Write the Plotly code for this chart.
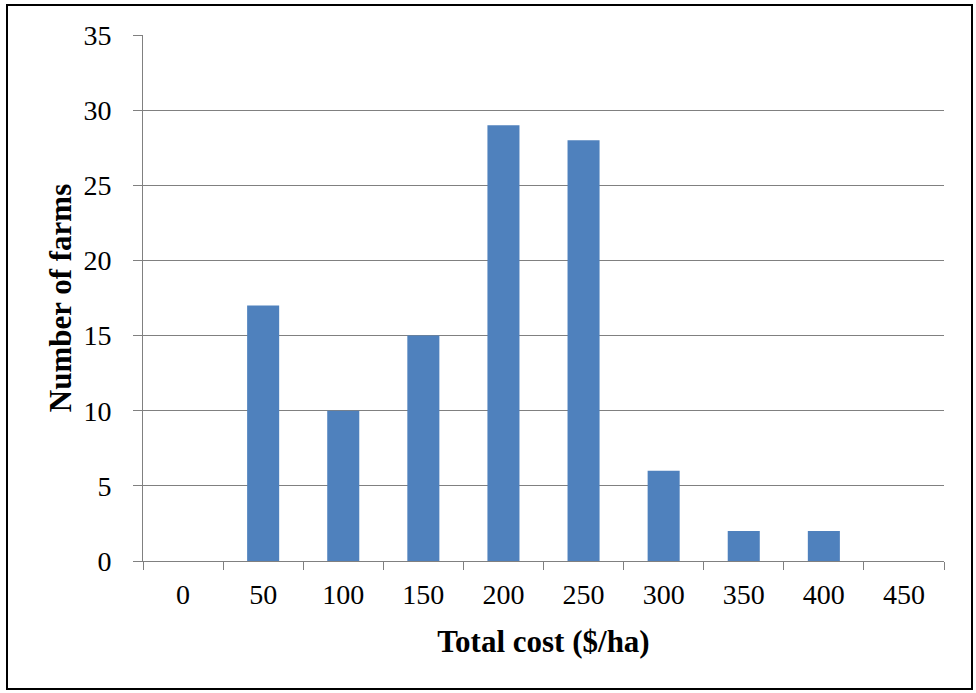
import plotly.graph_objects as go

categories = ["0", "50", "100", "150", "200", "250", "300", "350", "400", "450"]
farms = [0, 17, 10, 15, 29, 28, 6, 2, 2, 0]

FONT = "Liberation Serif"
W, H = 976, 693
L, R, T, B = 143, 32, 35, 132
pw, ph = W - L - R, H - T - B

fig = go.Figure(go.Bar(x=categories, y=farms, marker=dict(color="#4F81BD", line=dict(width=0)), width=0.4))

def px_x(x):
    return (x - L) / pw

def px_y(y):
    return (H - B - y) / ph

fig.update_layout(
    width=W, height=H,
    margin=dict(l=L, r=R, t=T, b=B),
    paper_bgcolor="white", plot_bgcolor="white",
    font=dict(family=FONT, size=27, color="black"),
    showlegend=False,
    xaxis=dict(
        type="category", tickson="boundaries", ticks="outside", ticklen=8, tickcolor="#808080",
        showgrid=False, showline=True, linecolor="#808080", linewidth=1,
        tickfont=dict(family=FONT, size=28), ticklabelstandoff=8,
        title=dict(text="<b>Total cost ($/ha)</b>", font=dict(family=FONT, size=31), standoff=21),
        range=[-0.5, 9.5],
    ),
    yaxis=dict(
        range=[0, 35], dtick=5, ticks="outside", ticklen=9, tickcolor="#808080",
        showgrid=True, gridcolor="#808080", gridwidth=1,
        showline=True, linecolor="#808080", linewidth=1, zeroline=False,
        tickfont=dict(family=FONT, size=28), ticklabelstandoff=16,
        title=dict(text="<b>Number of farms</b>", font=dict(family=FONT, size=31), standoff=2),
    ),
    shapes=[dict(type="rect", xref="paper", yref="paper",
                 x0=px_x(7), x1=px_x(972), y0=px_y(689), y1=px_y(5),
                 line=dict(color="black", width=2), fillcolor="rgba(0,0,0,0)", layer="above")],
)

fig.write_html("out.html")
